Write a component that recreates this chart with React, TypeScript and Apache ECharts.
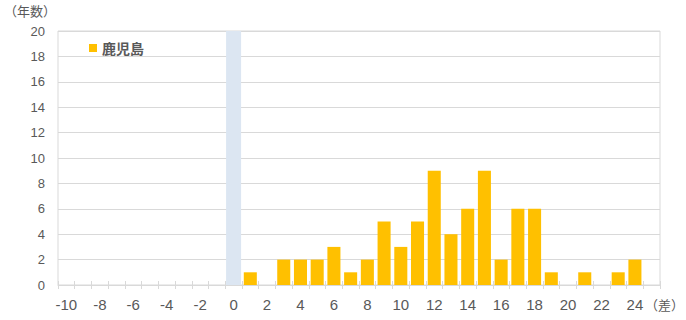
import React, { useEffect, useRef } from "react";
import * as echarts from "echarts";

// Difference categories (days) shown on the x axis
const diffs: string[] = [];
for (let d = -10; d <= 25; d++) diffs.push(String(d));

// Number of years for each difference value, Kagoshima
const kagoshimaYears = [
  0, 0, 0, 0, 0, 0, 0, 0, 0, 0, // -10 .. -1
  0, // 0
  1, 0, 2, 2, 2, 3, 1, 2, 5, 3, // 1 .. 10
  5, 9, 4, 6, 9, 2, 6, 6, 1, 0, // 11 .. 20
  1, 0, 1, 2, 0, // 21 .. 25
];

// Highlighted band at difference 0
const highlightCategory = "0";
const yMax = 20;
const highlightValues = diffs.map((d) => (d === highlightCategory ? yMax : null));

const labelColor = "#595959";
const gridColor = "#d9d9d9";

export default function App() {
  const ref = useRef<HTMLDivElement>(null);

  useEffect(() => {
    document.body.style.margin = "0";
    if (!ref.current) return;
    const chart = echarts.init(ref.current, null, { renderer: "svg" });
    chart.setOption({
      animation: false,
      textStyle: { fontFamily: "Liberation Sans, Noto Sans CJK JP, sans-serif" },
      grid: {
        left: 58,
        right: 26,
        top: 31,
        bottom: 35,
        show: true,
        borderColor: gridColor,
        borderWidth: 1,
      },
      legend: {
        show: true,
        left: 84,
        top: 36,
        itemWidth: 8,
        itemHeight: 8,
        itemGap: 4,
        data: [{ name: "鹿児島", icon: "rect" }],
        textStyle: {
          color: labelColor,
          fontSize: 14,
          fontWeight: "bold",
          fontFamily: "Noto Sans CJK JP, sans-serif",
        },
      },
      graphic: [
        {
          type: "text",
          left: 4,
          top: 4,
          style: {
            text: "（年数）",
            fill: labelColor,
            fontSize: 13,
            fontFamily: "Noto Sans CJK JP, sans-serif",
          },
        },
        {
          type: "text",
          right: 2,
          top: 298,
          style: {
            text: "（差）",
            fill: labelColor,
            fontSize: 13,
            fontFamily: "Noto Sans CJK JP, sans-serif",
          },
        },
      ],
      xAxis: [
        {
          type: "category",
          data: diffs,
          boundaryGap: true,
          axisLine: { lineStyle: { color: gridColor } },
          axisTick: { show: true, length: 4, lineStyle: { color: gridColor }, interval: 0 },
          axisLabel: { interval: 1, color: labelColor, fontSize: 15, margin: 12 },
        },
        {
          type: "category",
          data: diffs,
          position: "bottom",
          boundaryGap: true,
          axisLine: { show: false },
          axisTick: { show: true, inside: true, length: 4, lineStyle: { color: gridColor }, interval: 0 },
          axisLabel: { show: false },
        },
      ],
      yAxis: {
        type: "value",
        min: 0,
        max: yMax,
        interval: 2,
        axisLine: { show: false },
        axisTick: { show: false },
        splitLine: { lineStyle: { color: gridColor } },
        axisLabel: { color: labelColor, fontSize: 13, margin: 13 },
      },
      series: [
        {
          name: "highlight",
          type: "bar",
          xAxisIndex: 1,
          data: highlightValues,
          barWidth: 15,
          itemStyle: { color: "#dce6f2" },
          silent: true,
          z: 1,
        },
        {
          name: "鹿児島",
          type: "bar",
          xAxisIndex: 0,
          data: kagoshimaYears,
          barWidth: "78%",
          itemStyle: { color: "#ffc000" },
          z: 2,
        },
      ],
    });
    return () => chart.dispose();
  }, []);

  return <div ref={ref} style={{ width: 686, height: 320 }} />;
}
